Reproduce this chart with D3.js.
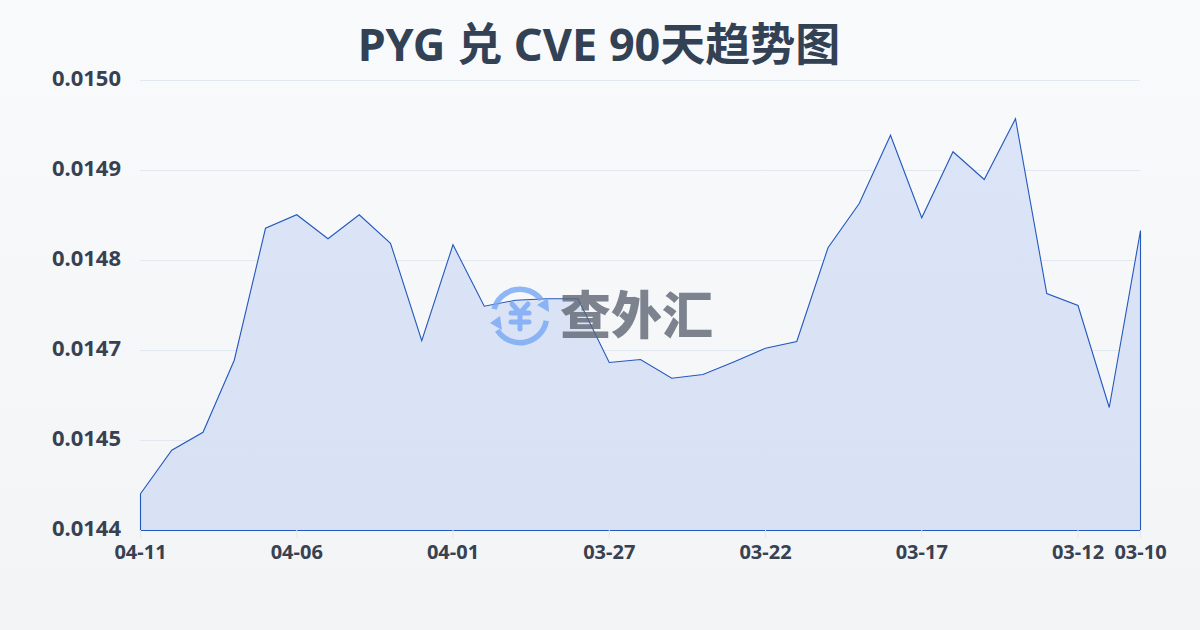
<!DOCTYPE html>
<html lang="zh">
<head>
<meta charset="utf-8" />
<title>PYG 兑 CVE 90天趋势图</title>
<script src="https://cdnjs.cloudflare.com/ajax/libs/d3/7.8.5/d3.min.js"></script>
<style>
    html, body { margin: 0; padding: 0; background: #f8fafc; }
    svg { display: block; font-family: "Noto Sans", "Noto Sans CJK SC", sans-serif; }
</style>
</head>
<body>
<script>
    // Values
    const dates = ["04-11","04-10","04-09","04-08","04-07","04-06","04-05","04-04","04-03","04-02","04-01",
        "03-31","03-30","03-29","03-28","03-27","03-26","03-25","03-24","03-23","03-22","03-21","03-20",
        "03-19","03-18","03-17","03-16","03-15","03-14","03-13","03-12","03-11","03-10"];
    const rates = [0.014449,0.014507,0.014531,0.014627,0.014803,0.014821,0.014789,0.014821,0.014783,0.014653,0.014781,
        0.014699,0.014707,0.014709,0.014709,0.014624,0.014628,0.014603,0.014608,0.014625,0.014643,0.014652,0.014777,
        0.014836,0.014927,0.014817,0.014905,0.014868,0.014949,0.014716,0.014700,0.014564,0.014800];
    const xTickLabels = ["04-11","04-06","04-01","03-27","03-22","03-17","03-12","03-10"];
    const yTicks = [0.0144,0.01452,0.01464,0.01476,0.01488,0.0150];
    const yTickLabels = ["0.0144","0.0145","0.0147","0.0148","0.0149","0.0150"];

    const width = 1200, height = 630;
    const margin = { top: 80, right: 60, bottom: 100, left: 140 };
    const textColor = "#374151";

    const svg = d3.select("body").append("svg")
        .attr("width", width)
        .attr("height", height);

    const defs = svg.append("defs");

    const bg = defs.append("linearGradient").attr("id", "bg")
        .attr("x1", 0).attr("y1", 0).attr("x2", 0).attr("y2", 1);
    bg.append("stop").attr("offset", "0%").attr("stop-color", "#f8fafc");
    bg.append("stop").attr("offset", "100%").attr("stop-color", "#f3f4f6");

    const fill = defs.append("linearGradient").attr("id", "areaFill")
        .attr("x1", 0).attr("y1", 0).attr("x2", 0).attr("y2", 1);
    fill.append("stop").attr("offset", "0%").attr("stop-color", "#dae4f7");
    fill.append("stop").attr("offset", "100%").attr("stop-color", "#d7e0f4");

    svg.append("rect").attr("width", width).attr("height", height).attr("fill", "url(#bg)");

    // Scales
    const x = d3.scalePoint().domain(dates).range([margin.left, width - margin.right]);
    const y = d3.scaleLinear().domain([0.0144, 0.0150]).range([height - margin.bottom, margin.top]);

    // Grid lines
    svg.append("g").selectAll("line")
        .data(yTicks)
        .join("line")
        .attr("x1", margin.left)
        .attr("x2", width - margin.right)
        .attr("y1", d => Math.round(y(d)) + 0.5)
        .attr("y2", d => Math.round(y(d)) + 0.5)
        .attr("stroke", "#e2e8f0")
        .attr("stroke-width", 1);

    // Area with outline going down both sides and along the bottom
    const area = d3.area()
        .x((d, i) => x(dates[i]))
        .y0(y(0.0144))
        .y1(d => y(d));

    svg.append("path")
        .datum(rates)
        .attr("transform", "translate(0.5,0.5)")
        .attr("d", area)
        .attr("fill", "url(#areaFill)")
        .attr("fill-opacity", 0.95)
        .attr("stroke", "#2458bd")
        .attr("stroke-width", 1.1)
        .attr("stroke-linejoin", "miter");

    // Y axis labels
    svg.append("g").selectAll("text")
        .data(yTicks)
        .join("text")
        .attr("x", 121)
        .attr("y", d => y(d) - 1.5)
        .attr("dy", "0.35em")
        .attr("text-anchor", "end")
        .attr("font-size", 22)
        .attr("font-weight", 700)
        .attr("fill", textColor)
        .text((d, i) => yTickLabels[i]);

    // X axis
    const xAxis = d3.axisBottom(x)
        .tickValues(xTickLabels)
        .tickSize(8)
        .tickSizeOuter(0)
        .tickPadding(7);

    const gx = svg.append("g")
        .attr("transform", `translate(0,${height - margin.bottom})`)
        .call(xAxis);
    gx.select(".domain").remove();
    gx.selectAll("line").attr("stroke", "#e2e8f0");
    gx.selectAll("text")
        .attr("font-family", "\"Noto Sans\", \"Noto Sans CJK SC\", sans-serif")
        .attr("font-size", 20)
        .attr("font-weight", 700)
        .attr("fill", textColor);

    // Title
    svg.append("text")
        .attr("x", width / 2 - 1)
        .attr("y", 61)
        .attr("text-anchor", "middle")
        .attr("font-size", 45)
        .attr("font-weight", 700)
        .attr("fill", "#334155")
        .text("PYG 兑 CVE 90天趋势图");

    // Watermark, see-through so the line still shows under it
    const logo = svg.append("g").attr("opacity", 0.8);
    const mark = logo.append("g").attr("transform", "translate(520,316)");
    const blue = "#76a8f6";
    const ring = d3.arc().innerRadius(24).outerRadius(29.5);
    mark.append("path").attr("d", ring({ startAngle: -1.31, endAngle: 0.91 })).attr("fill", blue);
    mark.append("path").attr("d", ring({ startAngle: 1.75, endAngle: 4.15 })).attr("fill", blue);
    mark.append("path").attr("d", d3.line()([[17, -11], [28, -18], [29, -4]]) + "Z").attr("fill", blue);
    mark.append("path").attr("d", d3.line()([[-30, 7], [-20, 0], [-18, 14]]) + "Z").attr("fill", blue);
    mark.append("path")
        .attr("d", "M-8,-12 L0,-3 L8,-12 M-9,-3 H9 M-9,6 H9 M0,-3 V13")
        .attr("fill", "none")
        .attr("stroke", blue)
        .attr("stroke-width", 5)
        .attr("stroke-linecap", "round");
    logo.append("text")
        .attr("x", 560)
        .attr("y", 334)
        .attr("font-family", "\"Noto Sans CJK SC\", sans-serif")
        .attr("font-size", 51)
        .attr("font-weight", 900)
        .attr("fill", "#5f6774")
        .text("查外汇");
</script>
</body>
</html>
